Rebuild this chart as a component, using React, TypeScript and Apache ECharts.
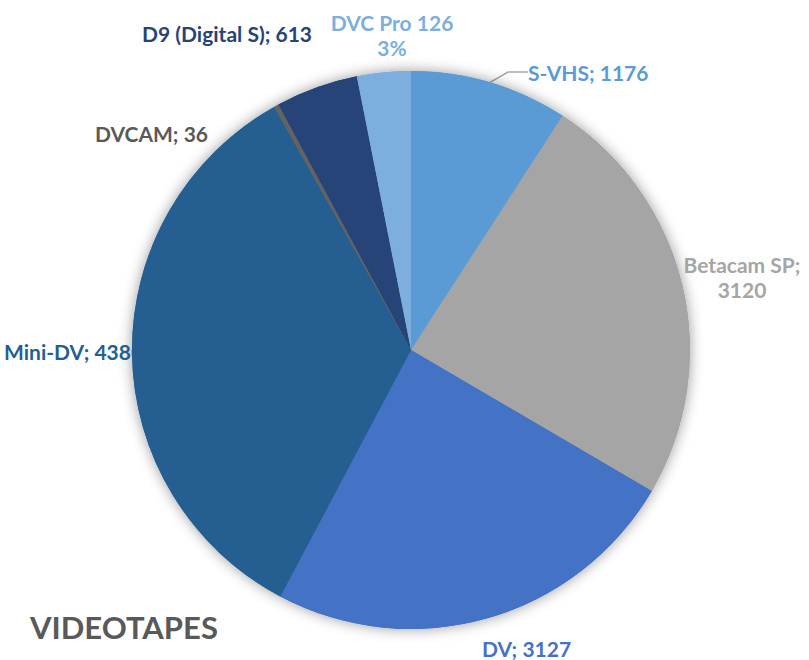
import React, { useEffect, useRef } from "react";
import * as echarts from "echarts";

const categories = ["S-VHS", "Betacam SP", "DV", "Mini-DV", "DVCAM", "D9 (Digital S)", "DVC Pro 126"];
const values = [1176, 3120, 3127, 4380, 36, 613, 400];
const colors = ["#5B9BD5", "#A5A5A5", "#4472C4", "#255E91", "#636363", "#264478", "#7CAFDD"];
const labelColors = ["#5B9BD5", "#A5A5A5", "#4472C4", "#255E91", "#595959", "#264478", "#7CAFDD"];
const title = "VIDEOTAPES";

// label placement: [x, y, align]
const labelPlace: [number, number, string][] = [
  [528, 72, "left"],
  [742, 277, "center"],
  [482, 648, "left"],
  [4, 351, "left"],
  [208, 133, "right"],
  [312, 33, "right"],
  [392, 35, "center"],
];

export default function App() {
  const ref = useRef<HTMLDivElement>(null);
  useEffect(() => {
    if (!ref.current) return;
    const chart = echarts.init(ref.current, null, { renderer: "svg" });
    const font = "Lato, 'Noto Sans', sans-serif";
    const data = categories.map((name, i) => ({
      name,
      value: values[i],
      itemStyle: { color: colors[i] },
      label: {
        color: labelColors[i],
        formatter: i === 6 ? "{b}\n{d}%" : i === 1 ? "{b};\n{c}" : "{b}; {c}",
      },
      labelLine: { show: i === 0 },
    }));
    const plain = categories.map((name, i) => ({
      name,
      value: values[i],
      itemStyle: { color: colors[i] },
    }));
    chart.setOption({
      animation: false,
      title: {
        text: title,
        left: 25,
        top: 606,
        textStyle: { fontFamily: font, fontWeight: "bold", fontSize: 31, color: "#595959" },
      },
      series: [
        {
          type: "pie",
          z: 1,
          center: [411, 350],
          radius: 279,
          startAngle: 90,
          silent: true,
          percentPrecision: 0,
          itemStyle: { shadowBlur: 14, shadowColor: "rgba(0,0,0,0.4)", borderWidth: 0 },
          label: {
            show: true,
            position: "outside",
            overflow: "none",
            width: 300,
            fontFamily: font,
            fontWeight: "bold",
            fontSize: 21,
            lineHeight: 25,
          },
          labelLine: { show: true, length: 8, length2: 20, lineStyle: { color: "#A6A6A6", width: 1.5 } },
          labelLayout: (p: any) => {
            const lp = labelPlace[p.dataIndex];
            return { x: lp[0], y: lp[1], align: lp[2], verticalAlign: "middle" };
          },
          data,
        },
        {
          type: "pie",
          zlevel: 1,
          z: 2,
          center: [411, 350],
          radius: 279,
          startAngle: 90,
          silent: true,
          label: { show: false },
          labelLine: { show: false },
          itemStyle: { borderWidth: 0 },
          data: plain,
        },
      ],
    });
    return () => chart.dispose();
  }, []);
  return (
    <div
      ref={ref}
      style={{ position: "fixed", left: 0, top: 0, width: 809, height: 660, background: "#fff" }}
    />
  );
}
